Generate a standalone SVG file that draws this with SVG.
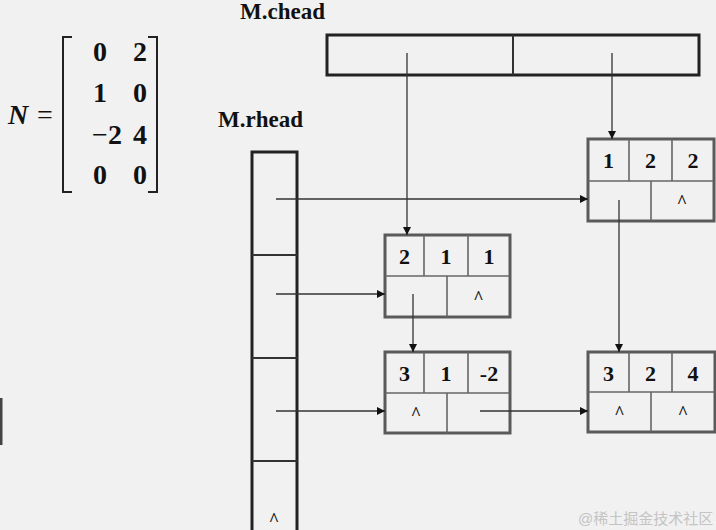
<svg xmlns="http://www.w3.org/2000/svg" width="716" height="530" viewBox="0 0 716 530">
<defs>
<style>
.bg{fill:#f1f1f1}
.head{fill:none;stroke:#222;stroke-width:3}
.hdiv{stroke:#333;stroke-width:2}
.nbox{fill:none;stroke:#5a5a5a;stroke-width:3}
.ndiv{stroke:#666;stroke-width:1.6}
.lbl{font-family:"Liberation Serif",serif;font-weight:bold;font-size:23px;fill:#111}
.dig{font-family:"Liberation Serif",serif;font-weight:bold;font-size:22px;fill:#111;text-anchor:middle}
.car{font-family:"Liberation Serif",serif;font-weight:bold;font-size:18px;fill:#222;text-anchor:middle}
.mat{font-family:"Liberation Serif",serif;font-weight:bold;font-size:28px;fill:#111;text-anchor:middle}
.conn{stroke:#333;stroke-width:1.3;fill:none}
</style>
<marker id="ah" viewBox="0 0 10 10" refX="10" refY="5" markerWidth="8" markerHeight="8" markerUnits="userSpaceOnUse" orient="auto">
<path d="M0,0 L10,5 L0,10 z" fill="#111"/>
</marker>
</defs>
<rect class="bg" x="0" y="0" width="716" height="530"/>
<rect x="0" y="398" width="2.5" height="47" fill="#444"/>

<g id="matrix">
<text x="18" y="124" font-family="Liberation Serif,serif" font-style="italic" font-weight="bold" font-size="28" fill="#111" text-anchor="middle">N</text>
<text x="45" y="124" font-family="Liberation Serif,serif" font-size="28" fill="#111" text-anchor="middle">=</text>
<path d="M72,37 H63 V192 H72" fill="none" stroke="#222" stroke-width="2"/>
<path d="M148,37 H157 V192 H148" fill="none" stroke="#222" stroke-width="2"/>
<text class="mat" x="100" y="61">0</text><text class="mat" x="140" y="61">2</text>
<text class="mat" x="100" y="102">1</text><text class="mat" x="140" y="102">0</text>
<text class="mat" x="107" y="144" text-anchor="end"><tspan font-weight="normal">−</tspan>2</text><text class="mat" x="140" y="144">4</text>
<text class="mat" x="100" y="184">0</text><text class="mat" x="140" y="184">0</text>
</g>

<g id="chead">
<text class="lbl" x="240" y="19">M.chead</text>
<rect class="head" x="327" y="35" width="372" height="40"/>
<line class="hdiv" x1="513" y1="35" x2="513" y2="75"/>
</g>

<g id="rhead">
<text class="lbl" x="218" y="127">M.rhead</text>
<rect class="head" x="252" y="152" width="45" height="390"/>
<line class="hdiv" x1="252" y1="255" x2="297" y2="255"/>
<line class="hdiv" x1="252" y1="358" x2="297" y2="358"/>
<line class="hdiv" x1="252" y1="461" x2="297" y2="461"/>
<text class="car" x="274" y="526">^</text>
</g>

<g id="node122">
<rect class="nbox" x="588" y="139" width="126" height="82"/>
<line class="ndiv" x1="588" y1="181" x2="714" y2="181"/>
<line class="ndiv" x1="629" y1="139" x2="629" y2="181"/>
<line class="ndiv" x1="672" y1="139" x2="672" y2="181"/>
<line class="ndiv" x1="651" y1="181" x2="651" y2="221"/>
<text class="dig" x="608.5" y="168">1</text><text class="dig" x="650.5" y="168">2</text><text class="dig" x="693" y="168">2</text>
<text class="car" x="682" y="208">^</text>
</g>

<g id="node211">
<rect class="nbox" x="385" y="235" width="125" height="82"/>
<line class="ndiv" x1="385" y1="276" x2="510" y2="276"/>
<line class="ndiv" x1="424" y1="235" x2="424" y2="276"/>
<line class="ndiv" x1="468" y1="235" x2="468" y2="276"/>
<line class="ndiv" x1="447" y1="276" x2="447" y2="317"/>
<text class="dig" x="404.5" y="264">2</text><text class="dig" x="446" y="264">1</text><text class="dig" x="489" y="264">1</text>
<text class="car" x="478.5" y="304">^</text>
</g>

<g id="node31m2">
<rect class="nbox" x="385" y="352" width="125" height="81"/>
<line class="ndiv" x1="385" y1="393" x2="510" y2="393"/>
<line class="ndiv" x1="424" y1="352" x2="424" y2="393"/>
<line class="ndiv" x1="468" y1="352" x2="468" y2="393"/>
<line class="ndiv" x1="447" y1="393" x2="447" y2="433"/>
<text class="dig" x="404.5" y="381">3</text><text class="dig" x="446" y="381">1</text><text class="dig" x="489" y="381">-2</text>
<text class="car" x="416" y="420">^</text>
</g>

<g id="node324">
<rect class="nbox" x="588" y="352" width="127" height="80"/>
<line class="ndiv" x1="588" y1="392" x2="715" y2="392"/>
<line class="ndiv" x1="629" y1="352" x2="629" y2="392"/>
<line class="ndiv" x1="672" y1="352" x2="672" y2="392"/>
<line class="ndiv" x1="651" y1="392" x2="651" y2="432"/>
<text class="dig" x="608.5" y="381">3</text><text class="dig" x="650.5" y="381">2</text><text class="dig" x="693" y="381">4</text>
<text class="car" x="619.5" y="419">^</text><text class="car" x="683" y="419">^</text>
</g>

<g id="connectors">
<line class="conn" x1="407" y1="53" x2="407" y2="235" marker-end="url(#ah)"/>
<line class="conn" x1="612" y1="53" x2="612" y2="139" marker-end="url(#ah)"/>
<line class="conn" x1="276" y1="199" x2="588" y2="199" marker-end="url(#ah)"/>
<line class="conn" x1="276" y1="294" x2="385" y2="294" marker-end="url(#ah)"/>
<line class="conn" x1="276" y1="411" x2="385" y2="411" marker-end="url(#ah)"/>
<line class="conn" x1="619" y1="200" x2="619" y2="352" marker-end="url(#ah)"/>
<line class="conn" x1="413" y1="294" x2="413" y2="352" marker-end="url(#ah)"/>
<line class="conn" x1="480" y1="411" x2="588" y2="411" marker-end="url(#ah)"/>
</g>

<text x="578" y="524" font-family="Liberation Sans,Noto Sans CJK SC,sans-serif" font-size="15" fill="#c4c4c4">@稀土掘金技术社区</text>
</svg>
